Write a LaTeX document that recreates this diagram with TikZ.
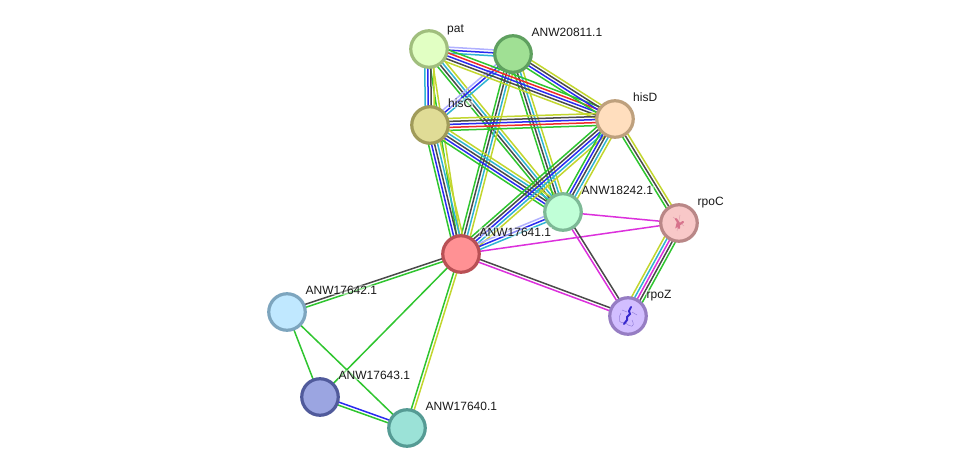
\documentclass[tikz,border=0pt]{standalone}
\usepackage{fontspec}
\setmainfont{Liberation Sans}
\usetikzlibrary{calc,backgrounds}
\definecolor{cG}{HTML}{2FC52F}
\definecolor{cB}{HTML}{2A2AF0}
\definecolor{cD}{HTML}{4A4A4A}
\definecolor{cC}{HTML}{2FB4D2}
\definecolor{cY}{HTML}{C2D62E}
\definecolor{cR}{HTML}{F02A2A}
\definecolor{cM}{HTML}{DC30DC}
\definecolor{cL}{HTML}{B0B0FF}
\definecolor{patE}{RGB}{160,190,125}\definecolor{patF}{RGB}{225,255,195}
\definecolor{aE}{RGB}{95,160,95}\definecolor{aF}{RGB}{160,224,148}
\definecolor{hcE}{RGB}{160,155,90}\definecolor{hcF}{RGB}{224,220,150}
\definecolor{hdE}{RGB}{190,160,125}\definecolor{hdF}{RGB}{255,222,190}
\definecolor{bE}{RGB}{125,185,150}\definecolor{bF}{RGB}{192,255,215}
\definecolor{rcE}{RGB}{185,135,135}\definecolor{rcF}{RGB}{248,200,200}
\definecolor{cenE}{RGB}{185,80,85}\definecolor{cenF}{RGB}{255,145,148}
\definecolor{rzE}{RGB}{150,125,195}\definecolor{rzF}{RGB}{210,190,255}
\definecolor{dE}{RGB}{125,165,190}\definecolor{dF}{RGB}{192,232,255}
\definecolor{eE}{RGB}{80,90,155}\definecolor{eF}{RGB}{155,165,225}
\definecolor{fE}{RGB}{85,155,148}\definecolor{fF}{RGB}{155,226,215}
\definecolor{foldC}{RGB}{215,115,140}\definecolor{foldCt}{RGB}{225,160,175}
\definecolor{foldZ}{RGB}{55,40,205}\definecolor{foldZt}{RGB}{140,120,215}
\tikzset{
  protein/.style 2 args={circle,draw=#1,fill=#2,line width=3.2pt,minimum size=36.5pt,inner sep=0pt},
  tag/.style={anchor=base west,font=\fontsize{12pt}{13pt}\selectfont,text=black!90,
    fill=white,fill opacity=.45,text opacity=1,inner sep=.5pt},
  link/.style={line width=1.5pt}
}
% Parallel coloured lines between two proteins, centred on the line joining them
\newcommand{\bundle}[3]{%
  \foreach \c [count=\i] in {#3} {\global\let\nn\i}%
  \foreach \c [count=\i] in {#3} {%
    \pgfmathsetmacro{\off}{((\nn+1)/2-\i)*3}%
    \draw[link,color=\c] ($(#1.center)!\off pt!90:(#2.center)$) -- ($(#2.center)!\off pt!-90:(#1.center)$);
  }%
}
\begin{document}
\begin{tikzpicture}[x=1pt,y=-1pt]
\useasboundingbox (0,0) rectangle (975,473);
% proteins
\node[protein={patE}{patF}] (pat) at (429,49) {};
\node[protein={aE}{aF}] (n20811) at (513,54) {};
\node[protein={hcE}{hcF}] (hisC) at (430,125) {};
\node[protein={hdE}{hdF}] (hisD) at (615,119) {};
\node[protein={bE}{bF}] (n18242) at (563,212) {};
\node[protein={rcE}{rcF}] (rpoC) at (679,223) {};
\node[protein={cenE}{cenF}] (n17641) at (461,254) {};
\node[protein={rzE}{rzF}] (rpoZ) at (628,316) {};
\node[protein={dE}{dF}] (n17642) at (287,312) {};
\node[protein={eE}{eF}] (n17643) at (320,397) {};
\node[protein={fE}{fF}] (n17640) at (407,428) {};
% fold sketches inside the two proteins with a known structure
\draw[line width=.5pt,color=foldCt] (673,217) -- (684,226) (680,215) -- (677,231);
\draw[line width=2.2pt,color=foldC,line cap=round]
  (676,219) -- (678,222) -- (677,226) -- (680,224) -- (683,222) (679,223) -- (679,228);
\draw[line width=.4pt,color=foldZt]
  (621,313) .. controls (617,320) and (620,325) .. (625,322) .. controls (630,328) and (636,328) .. (632,320) (622,310) -- (627,312) (632,312) -- (637,315);
\draw[line width=2pt,color=foldZ,line cap=round]
  (631,307) -- (629,311) -- (630,314) -- (627,317) -- (627,320) -- (624,324);
% labels
\node[tag] (lpat) at (446.5,32.3) {pat};
\node[tag] (l20811) at (531,36.3) {ANW20811.1};
\node[tag] (lhisC) at (447.5,107.3) {hisC};
\node[tag] (lhisD) at (632.5,101.3) {hisD};
\node[tag] (l18242) at (581,194.8) {ANW18242.1};
\node[tag] (lrpoC) at (697,205.3) {rpoC};
\node[tag] (l17641) at (479,236.3) {ANW17641.1};
\node[tag] (lrpoZ) at (646,298.3) {rpoZ};
\node[tag] (l17642) at (305,294.3) {ANW17642.1};
\node[tag] (l17643) at (338,379.3) {ANW17643.1};
\node[tag] (l17640) at (425,410.3) {ANW17640.1};
% interaction evidence lines
\begin{scope}[on background layer]
\fill[white] (0,0) rectangle (975,473);
\bundle{pat}{n18242}{cY,cC,cD,cG}
\bundle{n20811}{n17641}{cY,cC,cD,cG}
\bundle{n20811}{n18242}{cY,cC,cD,cG}
\bundle{pat}{n17641}{cY,cG}
\bundle{pat}{hisC}{cY,cD,cB,cC}
\bundle{pat}{n20811}{cL,cB,cC}
\bundle{hisC}{n20811}{cL,cB,cC}
\bundle{pat}{hisD}{cG,cR,cB,cD,cY}
\bundle{n20811}{hisD}{cY,cD,cB,cG}
\bundle{hisC}{hisD}{cY,cD,cB,cR,cG}
\bundle{hisC}{n17641}{cY,cC,cD,cB,cG}
\bundle{hisC}{n18242}{cY,cC,cD,cB,cG}
\bundle{hisD}{n17641}{cY,cC,cB,cD,cG}
\bundle{hisD}{n18242}{cY,cC,cD,cB,cG}
\bundle{hisD}{rpoC}{cY,cD,cG}
\bundle{n18242}{n17641}{cC,cB,cL}
\bundle{n18242}{rpoC}{cM}
\bundle{n17641}{rpoC}{cM}
\bundle{n18242}{rpoZ}{cD,cM}
\bundle{n17641}{rpoZ}{cD,cM}
\bundle{rpoC}{rpoZ}{cG,cD,cM,cC,cY}
\bundle{n17641}{n17642}{cG,cD}
\bundle{n17641}{n17643}{cG}
\bundle{n17641}{n17640}{cY,cG}
\bundle{n17642}{n17643}{cG}
\bundle{n17642}{n17640}{cG}
\bundle{n17643}{n17640}{cB,cG}
\end{scope}
\end{tikzpicture}
\end{document}
